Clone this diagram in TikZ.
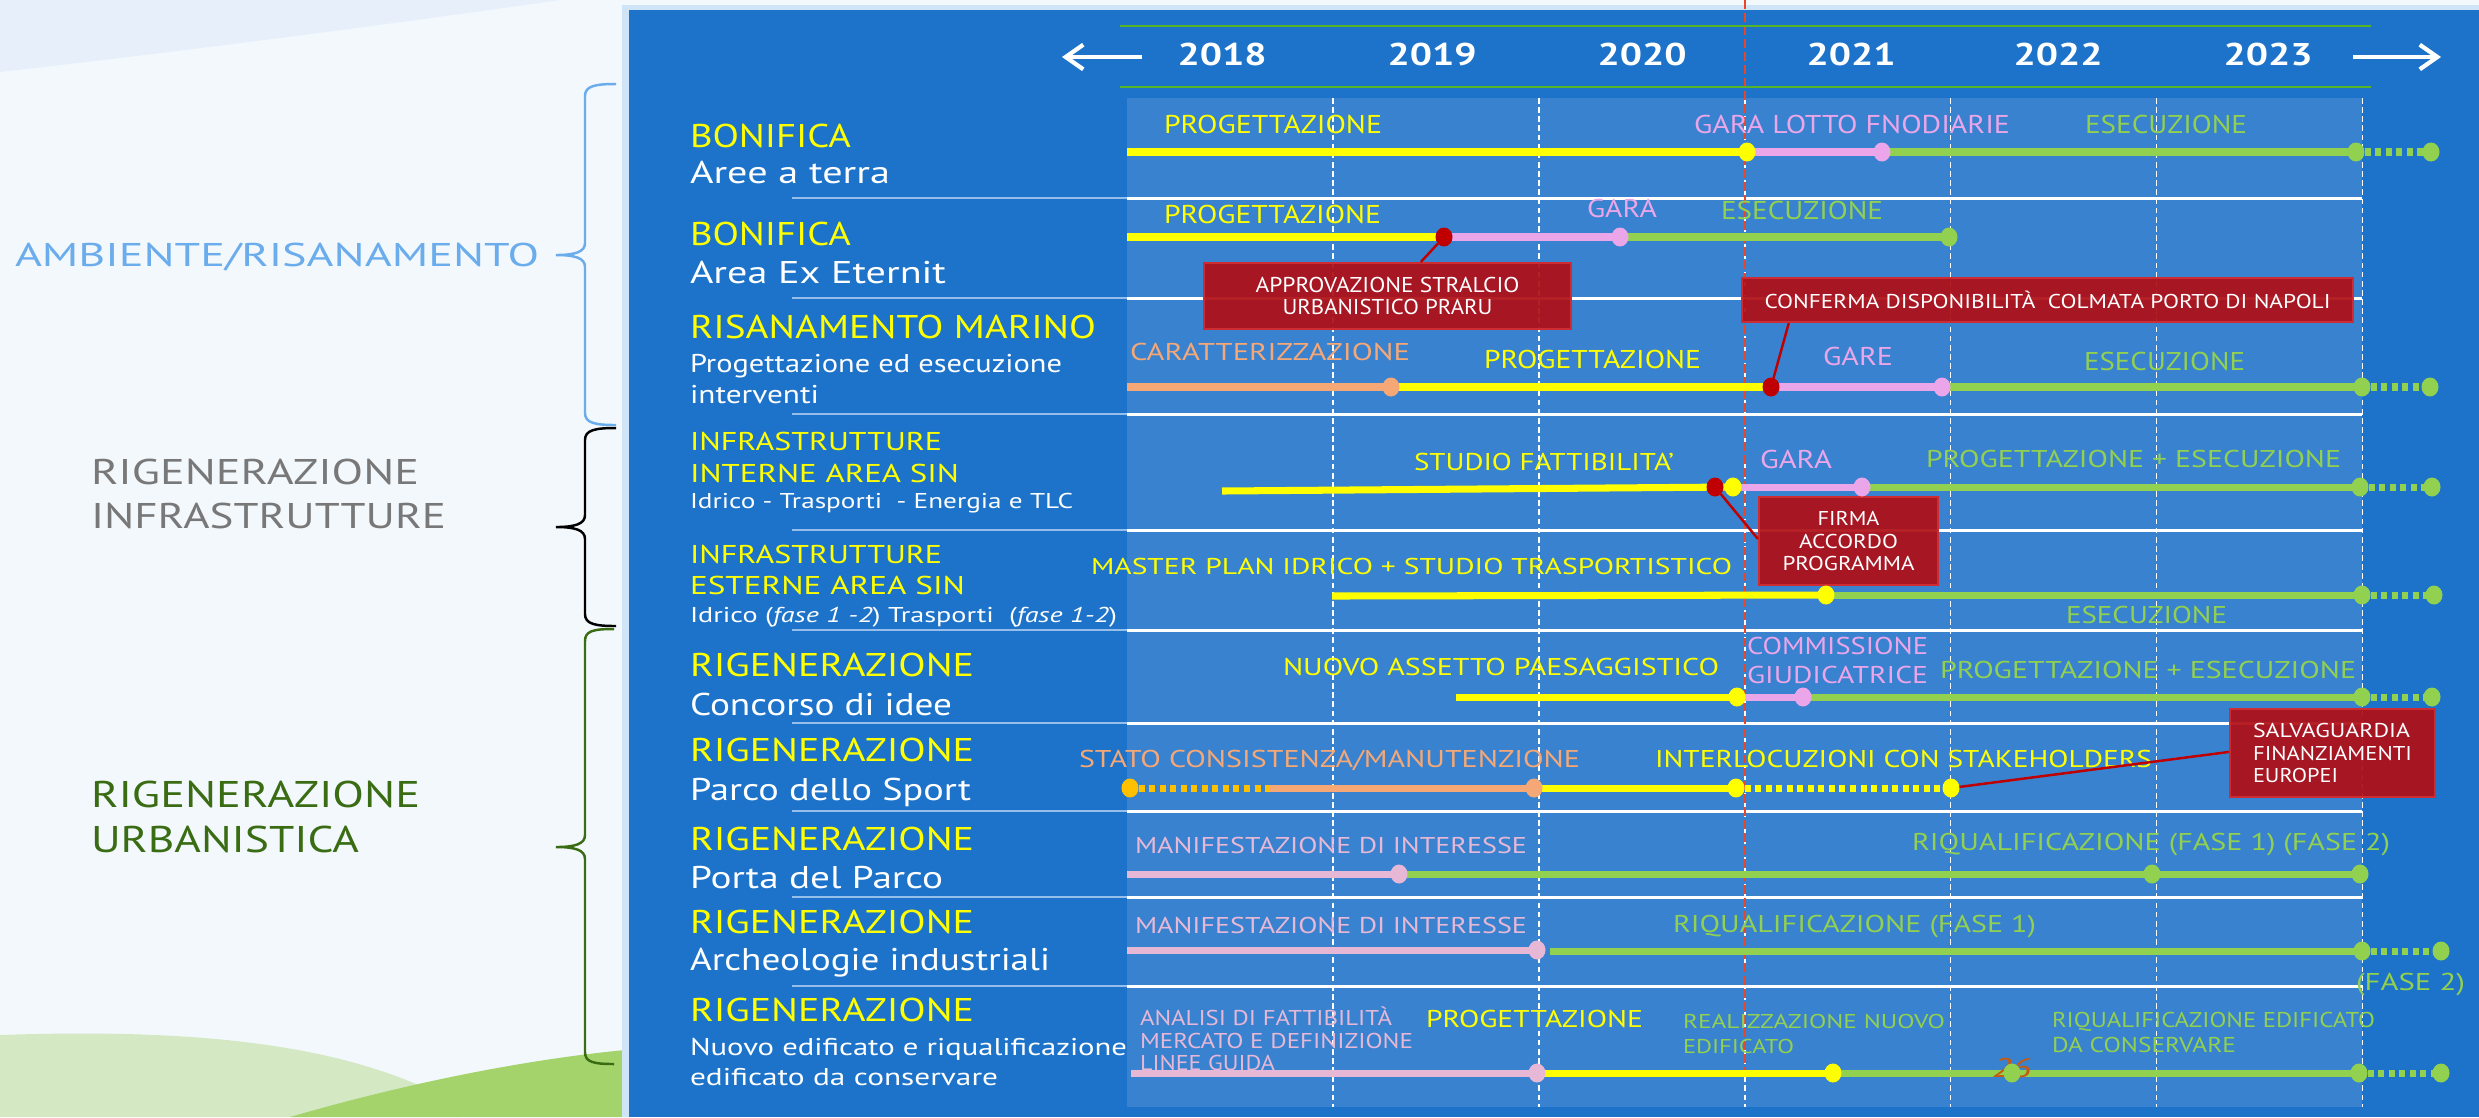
\documentclass[tikz,border=0pt]{standalone}
\usepackage{fontspec}
\setmainfont{PT Sans}
\usetikzlibrary{shapes.geometric,arrows.meta,calc}
\newlength\upx
\setlength\upx{0.01cm}
\newcommand\T[2]{\resizebox{#1\upx}{\height}{#2}}
\newcommand\fs[1]{\fontsize{#1}{#1}\selectfont}
\newcommand\Lab[6]{\node[txt,text=#4,font=\fs{#5}] (#1) at (#2) {\T{#3}{#6}};}
\definecolor{pagebg}{RGB}{243,248,253}
\definecolor{topband}{RGB}{231,240,250}
\definecolor{hilllt}{RGB}{213,232,196}
\definecolor{hillgr}{RGB}{163,211,106}
\definecolor{framec}{RGB}{208,228,247}
\definecolor{panel}{RGB}{28,115,201}
\definecolor{inner}{RGB}{56,130,208}
\definecolor{sepl}{RGB}{150,190,235}
\definecolor{hdrgrn}{RGB}{86,180,40}
\definecolor{cyel}{RGB}{255,255,0}
\definecolor{cpink}{RGB}{234,166,232}
\definecolor{cpinkb}{RGB}{230,184,214}
\definecolor{cgrn}{RGB}{146,208,80}
\definecolor{corg}{RGB}{245,168,118}
\definecolor{cgold}{RGB}{255,192,0}
\definecolor{mred}{RGB}{192,0,0}
\definecolor{boxred}{RGB}{176,14,22}
\definecolor{boxedge}{RGB}{205,45,50}
\definecolor{vred}{RGB}{232,70,40}
\definecolor{ambl}{RGB}{106,172,236}
\definecolor{infgray}{RGB}{120,120,120}
\definecolor{urbgrn}{RGB}{58,108,20}
\definecolor{pgnum}{RGB}{197,90,17}
\pgfdeclarelayer{bg}
\pgfdeclarelayer{barl}
\pgfsetlayers{bg,barl,main}
\begin{document}
\begin{tikzpicture}[x=0.01cm,y=-0.01cm,
  txt/.style={anchor=base west,inner sep=0,outer sep=0},
  mk/.style={ellipse,minimum width=0.17cm,minimum height=0.19cm,inner sep=0,outer sep=0},
  bar/.style={line width=2pt},
  dbar/.style={line width=2pt,dash pattern=on 1.7pt off 1.3pt},
  rbox/.style={fill=boxred,fill opacity=0.93,text opacity=1,draw=boxedge,line width=0.6pt,text=white,inner sep=0,align=center},
  rln/.style={draw=mred,line width=0.7pt},
  yr/.style={anchor=base,inner sep=0,text=white,font=\bfseries\fs{8.94}},
  brc/.style={line width=0.7pt}]
\useasboundingbox (0,0) rectangle (2479,1117);
\begin{pgfonlayer}{bg}
\fill[pagebg] (0,0) rectangle (2479,1117);
\fill[topband] (0,0) -- (560,0) .. controls (350,30) and (150,55) .. (0,72) -- cycle;
\fill[hilllt] (0,1035) .. controls (200,1028) and (340,1045) .. (440,1095) -- (460,1117) -- (0,1117) -- cycle;
\fill[hillgr] (290,1117) .. controls (400,1085) and (520,1060) .. (625,1050) -- (625,1117) -- cycle;
\fill[framec] (622,5) rectangle (2479,1117);
\fill[panel] (629,10) rectangle (2479,1117);
\fill[inner] (1127,98) rectangle (2362,1107);
\foreach \y in {198,298,414,530,630,723,811,897,986} {
  \draw[white,line width=0.85pt] (1127,\y) -- (2362,\y);
  \draw[sepl,line width=0.45pt] (792,\y) -- (1127,\y);
}
\foreach \x in {1333,1539,1745,1950,2156,2362}
  \draw[white,line width=0.3pt,dash pattern=on 1.6pt off 1pt] (\x,98) -- (\x,1107);
\draw[vred,line width=0.4pt,dash pattern=on 2.5pt off 1.2pt] (1745,0) -- (1745,1075);
\draw[hdrgrn,line width=0.75pt] (1120,26) -- (2371,26) (1120,87) -- (2371,87);
\end{pgfonlayer}

% braces
\draw[brc,ambl] (616,84) .. controls (595,84) and (585,86) .. (585,96) -- (585,243) .. controls (585,252) and (575,255) .. (556,255) .. controls (575,255) and (585,258) .. (585,267) -- (585,413) .. controls (585,423) and (595,425) .. (616,425);
\draw[brc,black] (616,428) .. controls (595,428) and (585,430) .. (585,440) -- (585,515) .. controls (585,524) and (575,527) .. (556,527) .. controls (575,527) and (585,530) .. (585,539) -- (585,614) .. controls (585,624) and (595,626) .. (616,626);
\draw[brc,urbgrn] (614,629) .. controls (593,629) and (585,631) .. (585,641) -- (585,835) .. controls (585,844) and (575,847) .. (556,847) .. controls (575,847) and (585,850) .. (585,859) -- (585,1052) .. controls (585,1062) and (593,1064) .. (614,1064);

% group labels
\Lab{g1}{15,266}{524}{ambl}{9.35}{AMBIENTE/RISANAMENTO}
\Lab{g2a}{91,484}{328}{infgray}{10.16}{RIGENERAZIONE}
\Lab{g2b}{91,528}{355}{infgray}{10.16}{INFRASTRUTTURE}
\Lab{g3a}{91,807}{329}{urbgrn}{10.57}{RIGENERAZIONE}
\Lab{g3b}{91,852}{268}{urbgrn}{10.57}{URBANISTICA}

% header
\coordinate (la1) at (1142,57); \coordinate (la2) at (1062,57);
\coordinate (ra1) at (2353,57); \coordinate (ra2) at (2441,57);
\draw[white,line width=1.2pt,-{Straight Barb[length=5pt,width=7pt]}] (la1) -- (la2);
\draw[white,line width=1.2pt,-{Straight Barb[length=5pt,width=7pt]}] (ra1) -- (ra2);
\node[yr] (y18) at (1222,65) {\T{89}{2018}};
\node[yr] (y19) at (1432,65) {\T{89}{2019}};
\node[yr] (y20) at (1642,65) {\T{89}{2020}};
\node[yr] (y21) at (1851,65) {\T{89}{2021}};
\node[yr] (y22) at (2058,65) {\T{89}{2022}};
\node[yr] (y23) at (2268,65) {\T{89}{2023}};

% row titles
\Lab{t1a}{690,147}{161}{cyel}{9.35}{BONIFICA}
\Lab{t1b}{690,183}{200}{white}{8.94}{Aree a terra}
\Lab{t2a}{690,245}{161}{cyel}{9.35}{BONIFICA}
\Lab{t2b}{690,283}{256}{white}{8.94}{Area Ex Eternit}
\Lab{t3a}{690,338}{406}{cyel}{9.35}{RISANAMENTO MARINO}
\Lab{t3b}{690,372}{372}{white}{7.32}{Progettazione ed esecuzione}
\Lab{t3c}{690,403}{129}{white}{7.32}{interventi}
\Lab{t4a}{690,450}{252}{cyel}{7.32}{INFRASTRUTTURE}
\Lab{t4b}{690,482}{269}{cyel}{7.32}{INTERNE AREA SIN}
\Lab{t4c}{690,508}{383}{white}{6.1}{Idrico - Trasporti \ - Energia e TLC}
\Lab{t5a}{690,563}{252}{cyel}{7.32}{INFRASTRUTTURE}
\Lab{t5b}{690,594}{275}{cyel}{7.32}{ESTERNE AREA SIN}
\Lab{t5c}{690,622}{427}{white}{6.1}{Idrico (\textit{fase 1 -2}) Trasporti \ (\textit{fase 1-2})}
\Lab{t6a}{690,676}{284}{cyel}{9.35}{RIGENERAZIONE}
\Lab{t6b}{690,715}{262}{white}{8.94}{Concorso di idee}
\Lab{t7a}{690,761}{284}{cyel}{9.35}{RIGENERAZIONE}
\Lab{t7b}{690,800}{281}{white}{8.94}{Parco dello Sport}
\Lab{t8a}{690,850}{284}{cyel}{9.35}{RIGENERAZIONE}
\Lab{t8b}{690,888}{253}{white}{8.94}{Porta del Parco}
\Lab{t9a}{690,933}{284}{cyel}{9.35}{RIGENERAZIONE}
\Lab{t9b}{690,970}{360}{white}{8.94}{Archeologie industriali}
\Lab{t10a}{690,1021}{284}{cyel}{9.35}{RIGENERAZIONE}
\Lab{t10b}{690,1055}{437}{white}{6.9}{Nuovo edificato e riqualificazione}
\Lab{t10c}{690,1085}{308}{white}{6.9}{edificato da conservare}

% phase labels
\Lab{p1a}{1164,133}{218}{cyel}{7.32}{PROGETTAZIONE}
\Lab{p1b}{1694,133}{316}{cpink}{7.32}{GARA LOTTO FNODIARIE}
\Lab{p1c}{2085,133}{162}{cgrn}{7.32}{ESECUZIONE}
\Lab{p2a}{1164,223}{217}{cyel}{7.32}{PROGETTAZIONE}
\Lab{p2b}{1587,217}{70}{cpink}{7.32}{GARA}
\Lab{p2c}{1721,219}{162}{cgrn}{7.32}{ESECUZIONE}
\Lab{p3a}{1130,360}{280}{corg}{6.91}{CARATTERIZZAZIONE}
\Lab{p3b}{1484,368}{217}{cyel}{7.32}{PROGETTAZIONE}
\Lab{p3c}{1823,365}{70}{cpink}{7.32}{GARE}
\Lab{p3d}{2084,370}{161}{cgrn}{7.32}{ESECUZIONE}
\Lab{p4a}{1414,470}{260}{cyel}{6.91}{STUDIO FATTIBILITA’}
\Lab{p4b}{1760,468}{72}{cpink}{7.32}{GARA}
\Lab{p4c}{1926,467}{415}{cgrn}{6.91}{PROGETTAZIONE + ESECUZIONE}
\Lab{p5a}{1091,574}{641}{cyel}{6.5}{MASTER PLAN IDRICO + STUDIO TRASPORTISTICO}
\Lab{p5b}{2066,623}{161}{cgrn}{6.91}{ESECUZIONE}
\Lab{p6a}{1283,675}{436}{cyel}{6.91}{NUOVO ASSETTO PAESAGGISTICO}
\Lab{p6b}{1747,654}{181}{cpink}{6.91}{COMMISSIONE}
\Lab{p6c}{1747,683}{181}{cpink}{6.91}{GIUDICATRICE}
\Lab{p6d}{1940,678}{416}{cgrn}{6.91}{PROGETTAZIONE + ESECUZIONE}
\Lab{p7a}{1079,767}{501}{corg}{6.91}{STATO CONSISTENZA/MANUTENZIONE}
\Lab{p7b}{1655,767}{497}{cyel}{6.91}{INTERLOCUZIONI CON STAKEHOLDERS}
\Lab{p8a}{1135,853}{392}{cpinkb}{6.5}{MANIFESTAZIONE DI INTERESSE}
\Lab{p8b}{1912,850}{478}{cgrn}{6.91}{RIQUALIFICAZIONE (FASE 1) (FASE 2)}
\Lab{p9a}{1135,933}{392}{cpinkb}{6.5}{MANIFESTAZIONE DI INTERESSE}
\Lab{p9b}{1673,932}{363}{cgrn}{6.91}{RIQUALIFICAZIONE (FASE 1)}
\Lab{p9c}{2356,990}{109}{cgrn}{6.91}{(FASE 2)}
\Lab{p10a}{1140,1025}{252}{cpinkb}{6.1}{ANALISI DI FATTIBILITÀ}
\Lab{p10b}{1140,1048}{273}{cpinkb}{6.1}{MERCATO E DEFINIZIONE}
\Lab{p10c}{1140,1070}{135}{cpinkb}{6.1}{LINEE GUIDA}
\Lab{p10d}{1426,1027}{217}{cyel}{6.91}{PROGETTAZIONE}
\Lab{p10e}{1683,1028}{262}{cgrn}{5.69}{REALIZZAZIONE NUOVO}
\Lab{p10f}{1683,1053}{111}{cgrn}{5.69}{EDIFICATO}
\Lab{p10g}{2052,1027}{323}{cgrn}{6.1}{RIQUALIFICAZIONE EDIFICATO}
\Lab{p10h}{2052,1052}{184}{cgrn}{6.1}{DA CONSERVARE}

% red boxes
\node[rbox,font=\fontsize{6.1}{6.3}\selectfont,minimum width=3.67cm,minimum height=0.66cm] (b1) at (1387.5,296) {\T{264}{APPROVAZIONE STRALCIO}\\\T{210}{URBANISTICO PRARU}};
\node[rbox,font=\fontsize{5.69}{6.3}\selectfont,minimum width=6.11cm,minimum height=0.44cm] (b2) at (2047.5,300) {\T{566}{CONFERMA DISPONIBILITÀ \ COLMATA PORTO DI NAPOLI}};
\node[rbox,font=\fontsize{5.69}{6.4}\selectfont,minimum width=1.79cm,minimum height=0.88cm] (b3) at (1848.5,541) {\T{62}{FIRMA}\\\T{99}{ACCORDO}\\\T{132}{PROGRAMMA}};
\node[rbox,align=left,font=\fontsize{5.69}{6.4}\selectfont,minimum width=2.05cm,minimum height=0.88cm] (b4) at (2332.5,753) {\T{157}{SALVAGUARDIA}\\\T{159}{FINANZIAMENTI}\\\T{85}{EUROPEI}};

% row 1
\coordinate (s1) at (1127,152);
\node[mk,fill=cyel] (m1a) at (1747,152) {};
\node[mk,fill=cpink] (m1b) at (1882,152) {};
\node[mk,fill=cgrn] (m1c) at (2356,152) {};
\node[mk,fill=cgrn] (m1d) at (2431,152) {};
% row 2
\coordinate (s2) at (1127,237);
\node[mk,fill=mred] (m2a) at (1444,237) {};
\node[mk,fill=cpink] (m2b) at (1620,237) {};
\node[mk,fill=cgrn] (m2c) at (1949,237) {};
% row 3
\coordinate (s3) at (1127,387);
\node[mk,fill=corg] (m3a) at (1391,387) {};
\node[mk,fill=mred] (m3b) at (1771,387) {};
\node[mk,fill=cpink] (m3c) at (1942,387) {};
\node[mk,fill=cgrn] (m3d) at (2362,387) {};
\node[mk,fill=cgrn] (m3e) at (2430,387) {};
% row 4
\coordinate (s4) at (1222,491);
\node[mk,fill=cyel] (m4a) at (1733,487) {};
\node[mk,fill=mred] (m4r) at (1715,487) {};
\node[mk,fill=cpink] (m4b) at (1862,487) {};
\node[mk,fill=cgrn] (m4c) at (2360,487) {};
\node[mk,fill=cgrn] (m4d) at (2432,487) {};
% row 5
\coordinate (s5) at (1332,596);
\node[mk,fill=cyel] (m5a) at (1826,595) {};
\node[mk,fill=cgrn] (m5b) at (2362,595) {};
\node[mk,fill=cgrn] (m5c) at (2434,595) {};
% row 6
\coordinate (s6) at (1456,697);
\node[mk,fill=cyel] (m6a) at (1737,697) {};
\node[mk,fill=cpink] (m6b) at (1803,697) {};
\node[mk,fill=cgrn] (m6c) at (2362,697) {};
\node[mk,fill=cgrn] (m6d) at (2432,697) {};
% row 7
\node[mk,fill=cgold] (m7a) at (1130,788) {};
\coordinate (c7) at (1270,788);
\node[mk,fill=corg] (m7b) at (1534,788) {};
\node[mk,fill=cyel] (m7c) at (1736,788) {};
\node[mk,fill=cyel] (m7d) at (1951,788) {};
% row 8
\coordinate (s8) at (1127,874);
\node[mk,fill=cpinkb] (m8a) at (1399,874) {};
\node[mk,fill=cgrn] (m8b) at (2152,874) {};
\node[mk,fill=cgrn] (m8c) at (2360,874) {};
% row 9
\coordinate (s9) at (1127,950);
\node[mk,fill=cpinkb] (m9a) at (1537,950) {};
\coordinate (c9) at (1550,951);
\node[mk,fill=cgrn] (m9b) at (2362,951) {};
\node[mk,fill=cgrn] (m9c) at (2441,951) {};
% row 10
\coordinate (s10) at (1131,1073);
\node[txt,text=pgnum,font=\itshape\fs{7.7}] (pg) at (1992,1077) {\T{39}{26}};
\node[mk,fill=cpinkb] (m10a) at (1537,1073) {};
\node[mk,fill=cyel] (m10b) at (1833,1073) {};
\node[mk,fill=cgrn] (m10c) at (2012,1073) {};
\node[mk,fill=cgrn] (m10d) at (2359,1073) {};
\node[mk,fill=cgrn] (m10e) at (2441,1073) {};

\begin{pgfonlayer}{barl}
\draw[bar,cyel] (s1) -- (m1a.center);
\draw[bar,cpink] (m1a.center) -- (m1b.center);
\draw[bar,cgrn] (m1b.center) -- (m1c.center);
\draw[dbar,cgrn] (m1c.east) -- (m1d.west);
\draw[bar,cyel] (s2) -- (m2a.center);
\draw[bar,cpink] (m2a.center) -- (m2b.center);
\draw[bar,cgrn] (m2b.center) -- (m2c.center);
\draw[bar,corg] (s3) -- (m3a.center);
\draw[bar,cyel] (m3a.center) -- (m3b.center);
\draw[bar,cpink] (m3b.center) -- (m3c.center);
\draw[bar,cgrn] (m3c.center) -- (m3d.center);
\draw[dbar,cgrn] (m3d.east) -- (m3e.west);
\draw[bar,cyel] (s4) -- (m4a.center);
\draw[bar,cpink] (m4a.center) -- (m4b.center);
\draw[bar,cgrn] (m4b.center) -- (m4c.center);
\draw[dbar,cgrn] (m4c.east) -- (m4d.west);
\draw[bar,cyel] (s5) -- (m5a.center);
\draw[bar,cgrn] (m5a.center) -- (m5b.center);
\draw[dbar,cgrn] (m5b.east) -- (m5c.west);
\draw[bar,cyel] (s6) -- (m6a.center);
\draw[bar,cpink] (m6a.center) -- (m6b.center);
\draw[bar,cgrn] (m6b.center) -- (m6c.center);
\draw[dbar,cgrn] (m6c.east) -- (m6d.west);
\draw[dbar,cgold] (m7a.east) -- (c7);
\draw[bar,corg] (c7) -- (m7b.center);
\draw[bar,cyel] (m7b.center) -- (m7c.center);
\draw[dbar,cyel] (m7c.east) -- (m7d.west);
\draw[bar,cpinkb] (s8) -- (m8a.center);
\draw[bar,cgrn] (m8a.center) -- (m8b.center);
\draw[bar,cgrn] (m8b.center) -- (m8c.center);
\draw[bar,cpinkb] (s9) -- (m9a.center);
\draw[bar,cgrn] (c9) -- (m9b.center);
\draw[dbar,cgrn] (m9b.east) -- (m9c.west);
\draw[bar,cpinkb] (s10) -- (m10a.center);
\draw[bar,cyel] (m10a.center) -- (m10b.center);
\draw[bar,cgrn] (m10b.center) -- (m10c.center);
\draw[bar,cgrn] (m10c.center) -- (m10d.center);
\draw[dbar,cgrn] (m10d.east) -- (m10e.west);
\end{pgfonlayer}

% callout lines
\draw[rln] (m2a) -- ($(b1.north west)+(218,0)$);
\draw[rln] (m3b) -- ($(b2.south west)+(48,0)$);
\draw[rln] (m4r) -- ($(b3.north west)+(0,43)$);
\draw[rln] (m7d) -- ($(b4.north west)+(0,44)$);
\end{tikzpicture}
\end{document}
